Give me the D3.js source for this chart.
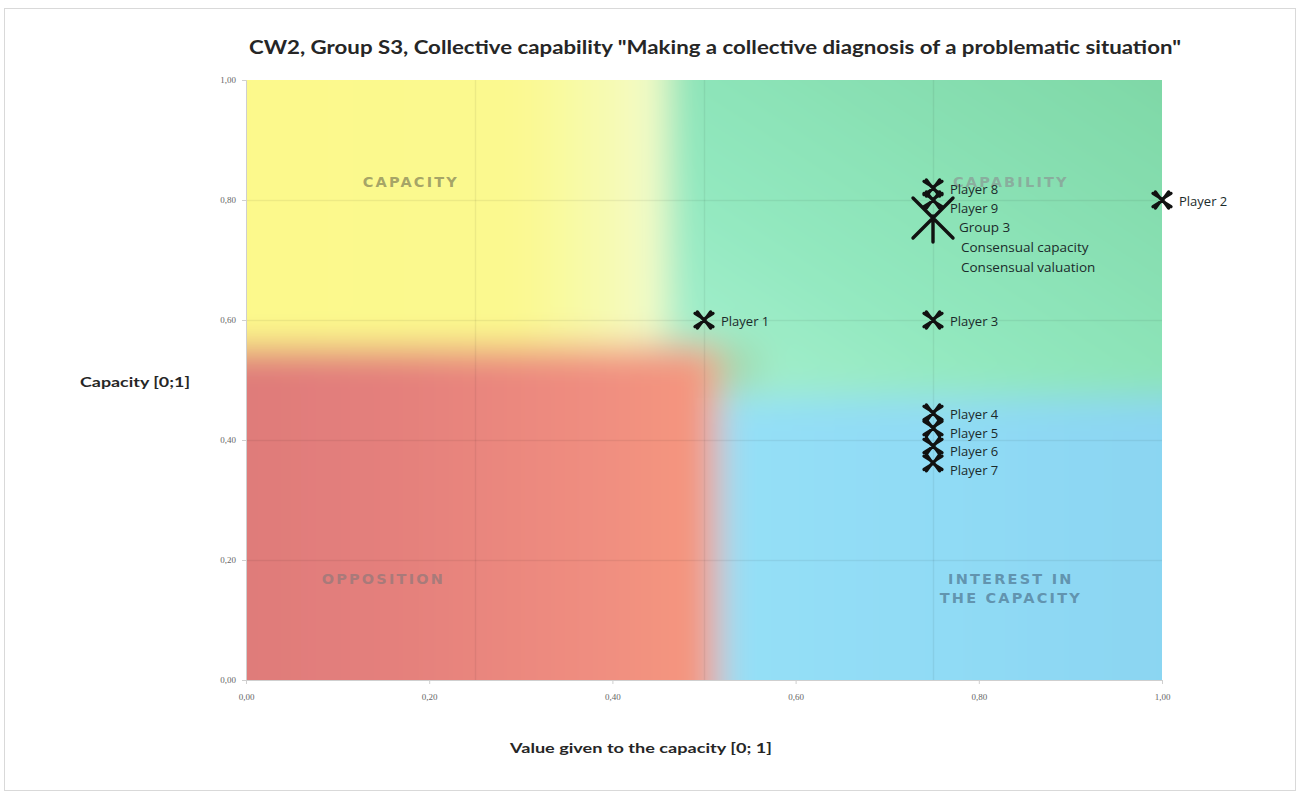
<!DOCTYPE html>
<html><head><meta charset="utf-8">
<script src="https://cdn.jsdelivr.net/npm/d3@7"></script>
<style>
html,body{margin:0;padding:0;background:#fff;}
svg{display:block;}
</style></head>
<body>
<svg id="c" width="1304" height="798"></svg>
<script>
// ---- data ----
const titleText = 'CW2, Group S3, Collective capability "Making a collective diagnosis of a problematic situation"';
const xAxisTitle = "Value given to the capacity [0; 1]";
const yAxisTitle = "Capacity [0;1]";
const xTickValues = [0, 0.2, 0.4, 0.6, 0.8, 1.0];
const yTickValues = [0, 0.2, 0.4, 0.6, 0.8, 1.0];
const playerNames = ["Player 1","Player 2","Player 3","Player 4","Player 5","Player 6","Player 7","Player 8","Player 9"];
const playerValues = [0.50, 1.00, 0.75, 0.75, 0.75, 0.75, 0.75, 0.75, 0.75];
const playerCapacities = [0.60, 0.80, 0.60, 0.445, 0.42, 0.39, 0.362, 0.82, 0.80];
const groupValue = 0.75;
const groupCapacity = 0.77;
const groupLabels = ["Group 3", "Consensual capacity", "Consensual valuation"];
const zoneNames = ["CAPACITY", "CAPABILITY", "OPPOSITION", "INTEREST IN|THE CAPACITY"];
const zoneCenters = [[0.18, 0.822], [0.835, 0.822], [0.15, 0.16], [0.835, 0.16]];

// ---- layout ----
const svg = d3.select("#c");
const L = 246, R = 1162, T = 80, B = 680;
const x = d3.scaleLinear().domain([0,1]).range([L,R]);
const y = d3.scaleLinear().domain([0,1]).range([B,T]);
const fmt = d => d3.format(".2f")(d).replace(".", ",");

// outer frame
svg.append("rect").attr("x",4.5).attr("y",8.5).attr("width",1291).attr("height",782)
  .attr("fill","#fff").attr("stroke","#d9d9d9");

const defs = svg.append("defs");
defs.append("clipPath").attr("id","plotclip").append("rect")
  .attr("x",L).attr("y",T).attr("width",R-L).attr("height",B-T);
defs.append("filter").attr("id","blur").attr("filterUnits","userSpaceOnUse")
  .attr("x",0).attr("y",0).attr("width",1304).attr("height",798)
  .append("feGaussianBlur").attr("stdDeviation",17);

function lg(id, stops, x1,y1,x2,y2){
  const g = defs.append("linearGradient").attr("id",id)
    .attr("x1",x1).attr("y1",y1).attr("x2",x2).attr("y2",y2);
  stops.forEach(s=>g.append("stop").attr("offset",s[0]).attr("stop-color",s[1]));
}
lg("gy", [[0,"#fdf98a"],[0.72,"#fbf98f"],[0.9,"#f6fab4"],[1,"#f1fbd0"]], 0,0,1,0);
lg("gg", [[0,"#a8f0d0"],[0.3,"#92e8bf"],[1,"#78d29e"]], 0,1,1,0);
lg("gr", [[0,"#dc7878"],[0.45,"#e4807c"],[0.8,"#f08e80"],[1,"#f6987e"]], 0,0,1,0);
lg("gb", [[0,"#95e0f7"],[1,"#89d3f1"]], 0,0,1,0);

const bg = svg.append("g").attr("clip-path","url(#plotclip)");
const bgi = bg.append("g").attr("filter","url(#blur)");
const ext = 0.12;
// yellow
bgi.append("rect").attr("x",x(-ext)).attr("y",y(1+ext)).attr("width",x(0.46)-x(-ext)).attr("height",y(0.555)-y(1+ext)).attr("fill","url(#gy)");
// green
bgi.append("rect").attr("x",x(0.46)).attr("y",y(1+ext)).attr("width",x(1+ext)-x(0.46)).attr("height",y(0.47)-y(1+ext)).attr("fill","url(#gg)");
bgi.append("rect").attr("x",x(0.43)).attr("y",y(0.56)).attr("width",x(0.56)-x(0.43)).attr("height",y(0.485)-y(0.56)).attr("fill","#a3d9b0");
// red
bgi.append("rect").attr("x",x(-ext)).attr("y",y(0.555)).attr("width",x(0.515)-x(-ext)).attr("height",y(-ext)-y(0.555)).attr("fill","url(#gr)");
// blue
bgi.append("rect").attr("x",x(0.515)).attr("y",y(0.47)).attr("width",x(1+ext)-x(0.515)).attr("height",y(-ext)-y(0.47)).attr("fill","url(#gb)");

// background grid (faint)
const gridV = [0.25, 0.5, 0.75];
bg.append("g").selectAll("line").data(gridV).join("line")
  .attr("x1",d=>x(d)+0.5).attr("x2",d=>x(d)+0.5).attr("y1",T).attr("y2",B)
  .attr("stroke","#000").attr("stroke-opacity",0.06).attr("stroke-width",1.5);
bg.append("g").selectAll("line").data(yTickValues.slice(1,-1)).join("line")
  .attr("x1",L).attr("x2",R).attr("y1",d=>Math.round(y(d))+0.5).attr("y2",d=>Math.round(y(d))+0.5)
  .attr("stroke","#000").attr("stroke-opacity",0.06).attr("stroke-width",1.5);

// zone labels
const zoneColors = ["#9a9a62","#8aa79b","#a07a7a","#5c8ba6"];
zoneNames.forEach((n,i)=>{
  const lines = n.split("|");
  const t = svg.append("text").attr("x",x(zoneCenters[i][0])).attr("y",y(zoneCenters[i][1]))
    .attr("text-anchor","middle").attr("font-family","'DejaVu Sans', sans-serif").attr("font-weight","bold")
    .attr("font-size",14.5).attr("letter-spacing",2.2).attr("fill",zoneColors[i]).attr("fill-opacity",0.9);
  lines.forEach((ln,j)=>t.append("tspan").attr("x",x(zoneCenters[i][0])).attr("dy", j===0?0:19).text(ln));
});

// axes
const xAxis = d3.axisBottom(x).tickValues(xTickValues).tickFormat(fmt).tickSize(4).tickPadding(6);
const yAxis = d3.axisLeft(y).tickValues(yTickValues).tickFormat(fmt).tickSize(4).tickPadding(6);
const gx = svg.append("g").attr("transform",`translate(0,${B})`).call(xAxis);
const gy = svg.append("g").attr("transform",`translate(${L},0)`).call(yAxis);
[gx,gy].forEach(g=>{
  g.select(".domain").attr("stroke","#cfcfcf");
  g.selectAll(".tick line").attr("stroke","#cfcfcf");
  g.selectAll("text").attr("font-family","'Liberation Serif', serif").attr("font-size",9).attr("fill","#666");
});
gx.selectAll(".tick text").attr("dy","1.1em");

// titles
svg.append("text").attr("x",715).attr("y",54).attr("text-anchor","middle")
  .attr("font-family","Lato, 'Open Sans', sans-serif").attr("font-weight","bold").attr("font-size",19)
  .attr("fill","#262626").attr("textLength",932).attr("lengthAdjust","spacingAndGlyphs").text(titleText);
svg.append("text").attr("x",641).attr("y",753).attr("text-anchor","middle")
  .attr("font-family","Lato, 'Open Sans', sans-serif").attr("font-weight","bold").attr("font-size",14)
  .attr("fill","#262626").attr("textLength",262).attr("lengthAdjust","spacingAndGlyphs").text(xAxisTitle);
svg.append("text").attr("x",80).attr("y",387)
  .attr("font-family","Lato, 'Open Sans', sans-serif").attr("font-weight","bold").attr("font-size",14)
  .attr("fill","#262626").attr("textLength",110).attr("lengthAdjust","spacingAndGlyphs").text(yAxisTitle);

// markers
function xMarker(s){
  const a = s*0.55, c = s*0.2;
  return `M${-a},${-a-c*0.6} L${-a*0.45},${-a*0.45} L0,0 L${a*0.45},${-a*0.45} L${a},${-a-c*0.6}` +
         `M${-a-c},${-a} L${-a*0.45},${-a*0.45}` +
         `M${a+c},${-a} L${a*0.45},${-a*0.45}` +
         `M${-a},${a+c*0.6} L${-a*0.45},${a*0.45} L0,0 L${a*0.45},${a*0.45} L${a},${a+c*0.6}` +
         `M${-a-c},${a} L${-a*0.45},${a*0.45}` +
         `M${a+c},${a} L${a*0.45},${a*0.45}`;
}
const pts = playerNames.map((n,i)=>({name:n, vx:playerValues[i], vy:playerCapacities[i]}));
const mk = svg.append("g");
const gxp = x(groupValue), gyp = y(groupCapacity);
mk.append("path").attr("transform",`translate(${gxp},${gyp})`)
  .attr("d","M-20,-20L20,20M-20,20L20,-20M0,-2L0,24").attr("stroke","#111").attr("stroke-width",3.4)
  .attr("fill","none").attr("stroke-linecap","round");
mk.selectAll("path.p").data(pts).join("path").attr("class","p")
  .attr("transform",d=>`translate(${x(d.vx)},${y(d.vy)})`)
  .attr("d",xMarker(12)).attr("stroke","#111").attr("stroke-width",3.3)
  .attr("fill","none").attr("stroke-linecap","round").attr("stroke-linejoin","round");

// labels with simple vertical collision avoidance per column
const labs = pts.map(d=>({text:d.name, lx:x(d.vx)+17, ly:y(d.vy)}));
const cols = d3.group(labs, d=>Math.round(d.lx));
cols.forEach(arr=>{
  arr.sort((a,b)=>a.ly-b.ly);
  for(let i=1;i<arr.length;i++) if(arr[i].ly-arr[i-1].ly<18.5) arr[i].ly=arr[i-1].ly+18.5;
});
svg.append("g").selectAll("text").data(labs).join("text")
  .attr("x",d=>d.lx).attr("y",d=>d.ly+3).attr("dominant-baseline","middle")
  .attr("font-family","'Open Sans', sans-serif").attr("font-size",13).attr("fill","#1b2b2b").text(d=>d.text);
svg.append("g").selectAll("text").data(groupLabels).join("text")
  .attr("x",(d,i)=>gxp+(i===0?26:28)).attr("y",(d,i)=>gyp+10+i*20).attr("dominant-baseline","middle")
  .attr("font-family","'Open Sans', sans-serif").attr("font-size",13.5).attr("fill","#1b2b2b").text(d=>d);
</script>
</body></html>
